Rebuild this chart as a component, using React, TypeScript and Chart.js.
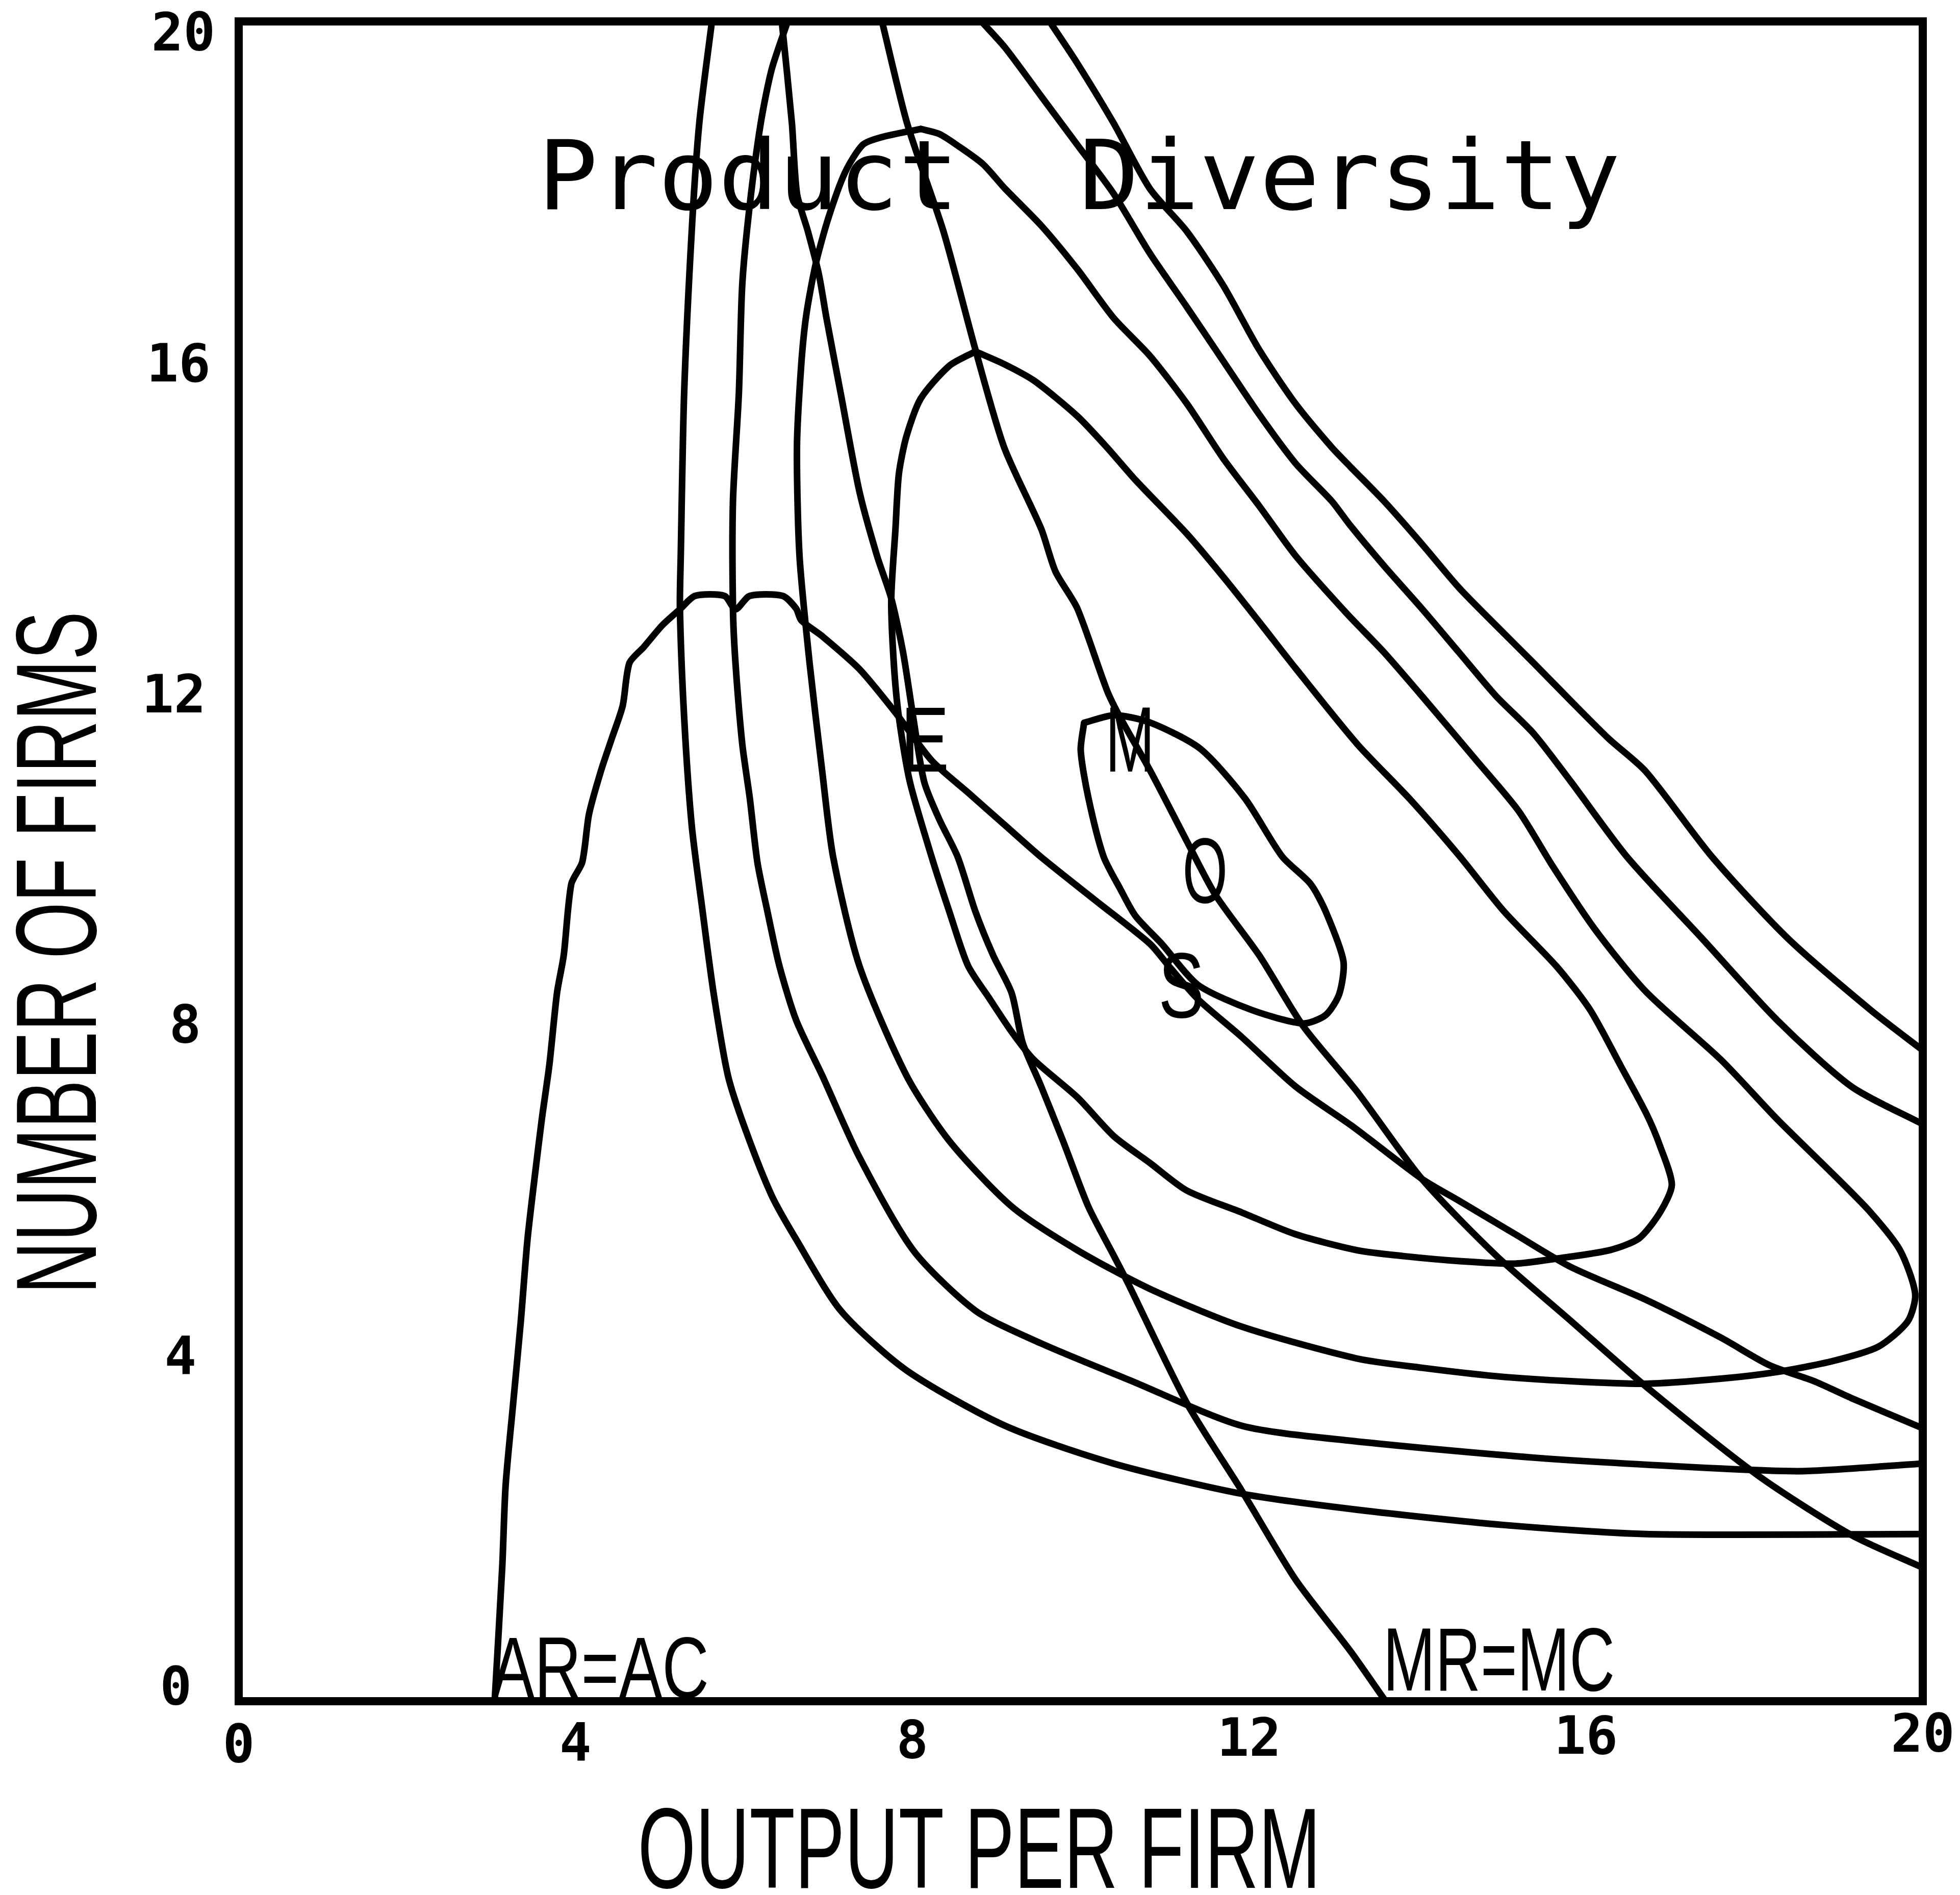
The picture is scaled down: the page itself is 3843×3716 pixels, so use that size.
import React, { useEffect, useRef } from 'react';
import { Chart, registerables } from 'chart.js';

Chart.register(...registerables);

type P = [number, number];

// ---- axis ticks ----
const X_TICKS = [0, 4, 8, 12, 16, 20];
const Y_TICKS = [0, 4, 8, 12, 16, 20];

// ---- curves (x = output per firm, y = number of firms) ----
const AR_AC: P[] = [
  [3.04, 0], [3.13, 1.6], [3.17, 2.57], [3.26, 3.55], [3.35, 4.52], [3.43, 5.5], [3.52, 6.28],
  [3.6, 6.93], [3.69, 7.58], [3.78, 8.43], [3.86, 8.88], [3.95, 9.73], [4.08, 9.99], [4.16, 10.56],
  [4.3, 11.07], [4.43, 11.46], [4.56, 11.85], [4.64, 12.36], [4.81, 12.55], [5.03, 12.81],
  [5.25, 13.01], [5.42, 13.16], [5.77, 13.16], [5.9, 13.0], [6.07, 13.16], [6.46, 13.16],
  [6.62, 13.01], [6.68, 12.87], [6.93, 12.68], [7.37, 12.29], [7.8, 11.77], [8.23, 11.2],
  [8.66, 10.82], [9.1, 10.43], [9.53, 10.05], [10.18, 9.53], [10.82, 9.02], [11.04, 8.76],
  [11.39, 8.36], [11.91, 7.91], [12.55, 7.32], [13.22, 6.85], [14.05, 6.22], [14.49, 5.96],
  [15.16, 5.56], [15.82, 5.17], [16.71, 4.78], [17.6, 4.33], [18.18, 4.0], [18.71, 3.81],
  [19.15, 3.61], [20.0, 3.25],
];

const MR_MC: P[] = [
  [6.45, 20], [6.57, 18.79], [6.63, 17.95], [6.76, 17.5], [6.89, 16.99], [6.98, 16.47],
  [7.15, 15.57], [7.37, 14.41], [7.58, 13.64], [7.75, 13.13], [7.89, 12.49], [8.01, 11.72],
  [8.14, 10.95], [8.32, 10.5], [8.54, 10.05], [8.75, 9.4], [8.96, 8.88], [9.18, 8.43],
  [9.31, 7.84], [9.53, 7.32], [9.79, 6.67], [10.09, 5.89], [10.39, 5.31], [10.56, 4.98],
  [11.26, 3.55], [11.91, 2.51], [12.55, 1.45], [13.2, 0.6], [13.62, 0],
];

const MO_LINE: P[] = [
  [7.64, 20], [7.94, 18.78], [8.37, 17.5], [8.75, 16.09], [9.09, 14.93], [9.53, 13.96],
  [9.7, 13.45], [9.96, 13.01], [10.31, 12.04], [10.47, 11.71], [10.83, 11.07], [11.26, 10.24],
  [11.6, 9.6], [12.12, 8.88], [12.64, 8.04], [13.28, 7.26], [14.05, 6.22], [14.94, 5.3],
  [15.83, 4.52], [16.72, 3.74], [18.04, 2.69], [19.15, 1.98], [20.0, 1.59],
];

const W1: P[] = [
  [10.04, 11.65], [10.4, 11.74], [10.83, 11.65], [11.42, 11.34], [11.95, 10.75], [12.39, 10.06],
  [12.73, 9.73], [12.91, 9.4], [13.12, 8.81], [13.07, 8.42], [12.91, 8.17], [12.64, 8.07],
  [12.03, 8.23], [11.39, 8.53], [10.96, 9.02], [10.65, 9.35], [10.47, 9.67], [10.27, 10.06],
  [10.09, 10.76], [10.0, 11.32], [10.04, 11.65],
];

const W2: P[] = [
  [8.75, 16.07], [8.44, 15.9], [8.1, 15.51], [7.93, 15.06], [7.84, 14.61], [7.8, 13.96],
  [7.75, 13.13], [7.78, 12.36], [7.84, 11.72], [7.97, 10.95], [8.23, 10.05], [8.44, 9.4],
  [8.66, 8.76], [8.92, 8.36], [9.18, 7.97], [9.44, 7.64], [9.96, 7.19], [10.39, 6.73],
  [10.82, 6.41], [11.26, 6.08], [11.91, 5.82], [12.55, 5.56], [13.28, 5.37], [13.83, 5.3],
  [14.5, 5.24], [15.16, 5.21], [15.65, 5.27], [16.28, 5.37], [16.63, 5.51], [16.88, 5.82],
  [17.02, 6.15], [16.88, 6.61], [16.72, 6.99], [16.41, 7.57], [16.05, 8.23], [15.65, 8.75],
  [15.03, 9.4], [14.5, 10.06], [13.9, 10.75], [13.28, 11.4], [12.55, 12.3], [12.12, 12.85],
  [11.69, 13.39], [11.26, 13.9], [10.65, 14.54], [10.31, 14.93], [9.96, 15.3], [9.45, 15.72],
  [9.09, 15.92], [8.75, 16.07],
];

const W3: P[] = [
  [8.1, 18.72], [7.63, 18.62], [7.41, 18.53], [7.2, 18.2], [7.0, 17.65], [6.85, 17.1],
  [6.74, 16.5], [6.68, 15.9], [6.63, 14.93], [6.66, 13.64], [6.78, 12.36], [6.93, 11.07],
  [7.06, 10.05], [7.37, 8.76], [7.93, 7.45], [8.44, 6.67], [9.18, 5.89], [9.96, 5.37],
  [10.82, 4.91], [11.91, 4.46], [13.28, 4.08], [14.05, 3.97], [14.93, 3.87], [15.82, 3.81],
  [16.71, 3.78], [17.6, 3.84], [18.27, 3.92], [18.93, 4.05], [19.47, 4.22], [19.82, 4.52],
  [19.91, 4.85], [19.73, 5.37], [19.38, 5.82], [18.93, 6.28], [18.27, 6.93], [17.6, 7.64],
  [16.71, 8.45], [16.1, 9.2], [15.6, 9.95], [15.2, 10.6], [14.7, 11.2], [14.05, 11.97],
  [13.6, 12.49], [13.16, 12.95], [12.55, 13.64], [12.12, 14.23], [11.69, 14.8], [11.26, 15.45],
  [10.82, 16.02], [10.39, 16.47], [9.96, 17.05], [9.53, 17.57], [9.1, 18.01], [8.84, 18.3],
  [8.54, 18.52], [8.32, 18.66], [8.1, 18.72],
];

const W4_LOWER: P[] = [
  [6.52, 20], [6.33, 19.43], [6.2, 18.79], [6.07, 17.82], [5.98, 16.86], [5.94, 15.57],
  [5.87, 14.29], [5.87, 13.01], [5.9, 12.36], [5.98, 11.4], [6.07, 10.75], [6.16, 9.99],
  [6.28, 9.4], [6.42, 8.76], [6.62, 8.11], [6.93, 7.45], [7.37, 6.48], [8.01, 5.37],
  [8.75, 4.65], [9.53, 4.26], [10.61, 3.81], [11.91, 3.28], [13.22, 3.1], [15.38, 2.9],
  [17.6, 2.77], [18.6, 2.74], [20.0, 2.83],
];

const W4_UPPER: P[] = [
  [8.82, 20], [9.1, 19.69], [9.53, 19.11], [9.96, 18.53], [10.39, 17.95], [10.82, 17.24],
  [11.26, 16.6], [11.69, 15.96], [12.12, 15.32], [12.55, 14.74], [12.98, 14.29], [13.2, 14.0],
  [13.6, 13.52], [14.05, 13.01], [14.49, 12.49], [14.93, 11.97], [15.38, 11.52], [15.82, 10.95],
  [16.49, 10.05], [17.38, 9.08], [18.27, 8.11], [19.15, 7.32], [20.0, 6.87],
];

const W5_LOWER: P[] = [
  [5.62, 20], [5.47, 18.79], [5.38, 17.5], [5.29, 15.57], [5.25, 13.64], [5.24, 13.01],
  [5.29, 11.72], [5.38, 10.43], [5.51, 9.4], [5.64, 8.43], [5.81, 7.45], [6.02, 6.8],
  [6.33, 6.02], [6.62, 5.5], [7.15, 4.65], [7.93, 3.94], [9.1, 3.28], [10.39, 2.83],
  [11.91, 2.47], [13.28, 2.28], [15.0, 2.1], [16.71, 1.99], [20.0, 1.99],
];

const W5_UPPER: P[] = [
  [9.63, 20], [9.96, 19.5], [10.39, 18.79], [10.82, 18.01], [11.26, 17.5], [11.69, 16.86],
  [12.12, 16.09], [12.55, 15.45], [12.98, 14.93], [13.2, 14.7], [13.6, 14.29], [14.05, 13.78],
  [14.49, 13.26], [14.93, 12.81], [15.38, 12.36], [15.82, 11.91], [16.27, 11.46], [16.71, 11.07],
  [17.5, 10.05], [18.4, 9.08], [19.38, 8.23], [20.0, 7.75],
];

const CURVES: P[][] = [AR_AC, MR_MC, MO_LINE, W1, W2, W3, W4_LOWER, W4_UPPER, W5_LOWER, W5_UPPER];

// ---- texts ----
const TITLE = 'Product  Diversity';
const X_TITLE = 'OUTPUT PER FIRM';
const Y_TITLE = 'NUMBER OF FIRMS';
const POINT_LABELS = ['E', 'M', 'O', 'S'];
const CURVE_LABELS = ['AR=AC', 'MR=MC'];

// ---- label anchors (data units: left of ink, baseline) ----
const POINT_LABEL_AT: P[] = [[7.93, 11.07], [10.35, 11.07], [11.24, 9.51], [10.96, 8.14]];
const CURVE_LABEL_AT: P[] = [[3.0, 0.04], [13.65, 0.13]];

// ---- style / layout (pixels) ----
const STYLE = {
  width: 3843,
  height: 3716,
  area: { left: 468, right: 3770, top: 42, bottom: 3336 },
  lineWidth: 13,
  frameWidth: 16,
  labelFont: "'Liberation Sans Narrow', 'Liberation Sans', 'DejaVu Sans', sans-serif",
  monoFont: "'DejaVu Sans Mono', 'Liberation Mono', monospace",
  tickFontSize: 104,
  yTickRight: { top: 422, bottom: 376 },
  yTickShift: { top: 26, bottom: -24 },
  xTickCenterY: { left: 3425, right: 3404 },
  pointLabelSize: { w: 78, cap: 125 },
  curveLabelSize: [{ w: 422, cap: 118 }, { w: 440, cap: 122 }],
  title: { left: 1073, baseline: 410, w: 2097, cap: 138 },
  xTitle: { left: 1257, baseline: 3702, w: 1321, cap: 155 },
  yTitle: { baselineX: 188, startY: 2526, w: 1321, cap: 155 },
};

function drawFit(
  ctx: CanvasRenderingContext2D,
  text: string,
  x: number,
  baseline: number,
  w: number,
  cap: number,
  family: string,
  weight: string,
) {
  ctx.save();
  ctx.font = `${weight} 200px ${family}`;
  ctx.textAlign = 'left';
  ctx.textBaseline = 'alphabetic';
  const m = ctx.measureText(text);
  const inkW = m.actualBoundingBoxLeft + m.actualBoundingBoxRight;
  const capM = ctx.measureText('H').actualBoundingBoxAscent || 140;
  const sx = w / inkW;
  const sy = cap / capM;
  ctx.translate(x, baseline);
  ctx.scale(sx, sy);
  ctx.fillStyle = '#000';
  ctx.fillText(text, m.actualBoundingBoxLeft, 0);
  ctx.restore();
}

const decorPlugin = {
  id: 'decor',
  afterDatasetsDraw(chart: any) {
    const { ctx, chartArea, scales } = chart;
    const xs = scales.x;
    const ys = scales.y;
    ctx.save();
    // frame
    ctx.strokeStyle = '#000';
    ctx.lineWidth = STYLE.frameWidth;
    ctx.lineJoin = 'miter';
    ctx.strokeRect(chartArea.left, chartArea.top, chartArea.right - chartArea.left, chartArea.bottom - chartArea.top);

    // tick labels
    ctx.fillStyle = '#000';
    ctx.font = `bold ${STYLE.tickFontSize}px ${STYLE.monoFont}`;
    ctx.textBaseline = 'middle';
    ctx.textAlign = 'right';
    const yMin = Y_TICKS[0];
    const yMax = Y_TICKS[Y_TICKS.length - 1];
    Y_TICKS.forEach((v) => {
      const f = (v - yMin) / (yMax - yMin);
      const shift = STYLE.yTickShift.bottom + f * (STYLE.yTickShift.top - STYLE.yTickShift.bottom);
      const right = STYLE.yTickRight.bottom + f * (STYLE.yTickRight.top - STYLE.yTickRight.bottom);
      ctx.fillText(String(v), right, ys.getPixelForValue(v) + shift + 4);
    });
    ctx.textAlign = 'center';
    const xMin = X_TICKS[0];
    const xMax = X_TICKS[X_TICKS.length - 1];
    X_TICKS.forEach((v) => {
      const f = (v - xMin) / (xMax - xMin);
      const cy = STYLE.xTickCenterY.left + f * (STYLE.xTickCenterY.right - STYLE.xTickCenterY.left);
      ctx.fillText(String(v), xs.getPixelForValue(v), cy + 4);
    });

    // point labels
    POINT_LABELS.forEach((t, i) => {
      const [dx, dy] = POINT_LABEL_AT[i];
      drawFit(ctx, t, xs.getPixelForValue(dx), ys.getPixelForValue(dy), STYLE.pointLabelSize.w,
        STYLE.pointLabelSize.cap, STYLE.labelFont, 'normal');
    });
    // curve labels
    CURVE_LABELS.forEach((t, i) => {
      const [dx, dy] = CURVE_LABEL_AT[i];
      const s = STYLE.curveLabelSize[i];
      drawFit(ctx, t, xs.getPixelForValue(dx), ys.getPixelForValue(dy), s.w, s.cap, STYLE.labelFont, 'normal');
    });

    // title
    const T = STYLE.title;
    drawFit(ctx, TITLE, T.left, T.baseline, T.w, T.cap, STYLE.monoFont, 'normal');

    // x title
    const XT = STYLE.xTitle;
    drawFit(ctx, X_TITLE, XT.left, XT.baseline, XT.w, XT.cap, STYLE.labelFont, 'normal');

    // y title (rotated)
    const YT = STYLE.yTitle;
    ctx.save();
    ctx.translate(YT.baselineX, YT.startY);
    ctx.rotate(-Math.PI / 2);
    drawFit(ctx, Y_TITLE, 0, 0, YT.w, YT.cap, STYLE.labelFont, 'normal');
    ctx.restore();

    ctx.restore();
  },
};

export default function App() {
  const ref = useRef<HTMLCanvasElement | null>(null);

  useEffect(() => {
    const canvas = ref.current;
    if (!canvas) return;
    const A = STYLE.area;
    const datasets = CURVES.map((c) => ({
      data: c.map(([x, y]) => ({ x, y })),
      showLine: true,
      borderColor: '#000',
      backgroundColor: '#000',
      borderWidth: STYLE.lineWidth,
      pointRadius: 0,
      tension: 0.25,
      fill: false,
      clip: 0,
      borderCapStyle: 'round' as const,
      borderJoinStyle: 'round' as const,
    }));

    const chart = new Chart(canvas, {
      type: 'scatter',
      data: { datasets },
      options: {
        animation: false,
        responsive: false,
        devicePixelRatio: 1,
        layout: {
          padding: { left: 0, top: A.top, right: STYLE.width - A.right, bottom: 0 },
        },
        plugins: { legend: { display: false }, tooltip: { enabled: false }, title: { display: false } },
        scales: {
          x: {
            type: 'linear',
            min: X_TICKS[0],
            max: X_TICKS[X_TICKS.length - 1],
            afterFit: (s: any) => { s.height = STYLE.height - A.bottom; },
            grid: { display: false, drawTicks: false },
            border: { display: false },
            ticks: { display: false },
          },
          y: {
            type: 'linear',
            min: Y_TICKS[0],
            max: Y_TICKS[Y_TICKS.length - 1],
            afterFit: (s: any) => { s.width = A.left; },
            grid: { display: false, drawTicks: false },
            border: { display: false },
            ticks: { display: false },
          },
        },
      },
      plugins: [decorPlugin],
    } as any);

    return () => chart.destroy();
  }, []);

  return (
    <div style={{ position: 'absolute', left: 0, top: 0, width: STYLE.width, height: STYLE.height, background: '#fff' }}>
      <canvas
        ref={ref}
        width={STYLE.width}
        height={STYLE.height}
        style={{ display: 'block', width: STYLE.width, height: STYLE.height }}
      />
    </div>
  );
}
